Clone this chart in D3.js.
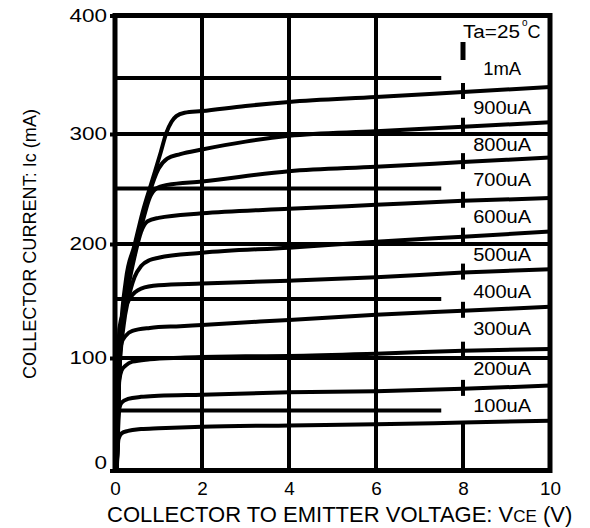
<!DOCTYPE html>
<html>
<head>
<meta charset="utf-8">
<script src="https://cdn.jsdelivr.net/npm/d3@7"></script>
<style>
  body { margin: 0; background: #fff; }
  svg { display: block; font-family: "Liberation Sans", Arial, sans-serif; }
</style>
</head>
<body>
<svg id="chart" width="590" height="528"></svg>
<script>
// Ic–Vce curves, [Vce (V), Ic (mA)] per base current
const ic100uA = [[0.04, 0], [0.08, 26], [0.15, 31], [0.3, 33], [0.6, 34.5], [1, 35.2], [2, 36.5], [4, 37.6], [6, 38.5], [8, 40], [10, 41.5]];
const ic200uA = [[0.04, 0], [0.1, 52], [0.15, 57.5], [0.3, 61], [0.6, 63], [1, 64], [2, 65], [4, 67.3], [6, 68.3], [8, 70.6], [10, 73.8]];
const ic300uA = [[0.04, 0], [0.1, 79], [0.15, 88], [0.25, 93], [0.4, 96.5], [0.8, 98.8], [1.5, 100.3], [3, 101.4], [4, 101.8], [6, 103.7], [8, 106.2], [10, 107.6]];
const ic400uA = [[0.04, 0], [0.1, 101], [0.15, 112.5], [0.25, 119], [0.4, 123], [0.8, 125.5], [1.5, 127], [2, 128], [4, 132.3], [6, 136.6], [8, 140], [10, 143.4]];
const ic500uA = [[0.04, 0], [0.1, 125], [0.2, 139.5], [0.35, 151], [0.6, 159.5], [1, 162.5], [2, 164.1], [4, 166.7], [6, 169.8], [8, 174], [10, 177.1]];
const ic600uA = [[0.04, 0], [0.1, 85], [0.2, 128], [0.3, 149], [0.45, 170], [0.6, 180], [0.8, 185.4], [1, 187.5], [2, 192], [4, 196.7], [6, 202], [8, 206.6], [10, 211.2]];
const ic700uA = [[0.04, 0], [0.1, 90], [0.2, 135], [0.3, 159.5], [0.45, 188.5], [0.6, 211], [0.75, 220.5], [1, 223.5], [2, 227.6], [4, 231.7], [6, 235.3], [8, 238.9], [10, 241.4]];
const ic800uA = [[0.04, 0], [0.1, 92], [0.2, 139.5], [0.3, 164.5], [0.45, 192.5], [0.63, 219.5], [0.8, 242], [0.95, 250], [1.2, 253.3], [2, 256.5], [4, 265.9], [6, 270], [8, 274.2], [10, 278.4]];
const ic900uA = [[0.04, 0], [0.1, 95.5], [0.2, 144.5], [0.3, 170], [0.45, 196.7], [0.63, 223.5], [0.8, 247], [1, 268], [1.2, 277.4], [1.5, 281.6], [2, 285.8], [3, 293], [4, 298.3], [6, 302.4], [8, 306.5], [10, 310.5]];
const ic1mA = [[0.04, 0], [0.1, 101], [0.25, 167], [0.45, 199], [0.63, 228], [0.86, 258], [1.05, 283], [1.18, 301], [1.3, 311], [1.41, 316], [1.6, 319], [2, 320.5], [3, 325], [4, 328.6], [6, 333], [8, 337.5], [10, 342]];

const curveNames = ["100uA", "200uA", "300uA", "400uA", "500uA", "600uA", "700uA", "800uA", "900uA", "1mA"];
// Ic (mA) where each curve label sits, Vce of the label column
const labelIc = [54.3, 89.5, 124.6, 156.4, 190, 224.3, 257.8, 289.9, 323.2, 357.2];
const labelVce = 8.9;

const xTicks = [0, 2, 4, 6, 8, 10];
const yTicks = [0, 100, 200, 300, 400];
const vGrid = [2, 4, 6];
const hGridFull = [100, 200, 300];
const hGridShort = [50, 150, 250, 350];
const hGridShortEnd = 7.5;
const markVce = 8;
const tempNote = { vce: 8, ic: 382, markTop: 378.8, markBottom: 364.4 };

const curves = [ic100uA, ic200uA, ic300uA, ic400uA, ic500uA, ic600uA, ic700uA, ic800uA, ic900uA, ic1mA];

const svg = d3.select("#chart");

const x = d3.scaleLinear().domain([0, 10]).range([115, 550]);
// scanned chart: grid spacing is a bit uneven, so map through each grid line
const y = d3.scaleLinear()
  .domain([0, 50, 100, 150, 200, 250, 300, 350, 400])
  .range([470.5, 410.5, 358, 299, 244, 188.5, 134, 78, 15.5]);

const ink = "#000";
const gridW = 4;

// grid
const grid = svg.append("g").attr("stroke", ink).attr("stroke-width", gridW);

grid.selectAll(".hshort")
  .data(hGridShort)
  .join("line")
  .attr("x1", x(0)).attr("x2", x(hGridShortEnd))
  .attr("y1", d => y(d)).attr("y2", d => y(d));

grid.selectAll(".hfull")
  .data(hGridFull)
  .join("line")
  .attr("x1", x(0)).attr("x2", x(10))
  .attr("y1", d => y(d)).attr("y2", d => y(d));

grid.selectAll(".v")
  .data(vGrid)
  .join("line")
  .attr("x1", d => x(d)).attr("x2", d => x(d))
  .attr("y1", y(0)).attr("y2", y(400));

// broken line at Vce = 8: base segment + short marks across each curve
const icAt = (c, v) => c.find(p => p[0] === v)[1];
grid.append("line")
  .attr("x1", x(markVce)).attr("x2", x(markVce))
  .attr("y1", y(0)).attr("y2", y(icAt(ic100uA, markVce)));

grid.selectAll(".mark")
  .data(curves.slice(1))
  .join("line")
  .attr("x1", x(markVce)).attr("x2", x(markVce))
  .attr("y1", c => y(icAt(c, markVce)) - 9)
  .attr("y2", c => y(icAt(c, markVce)) + 7);

grid.append("line")
  .attr("stroke-width", 5)
  .attr("x1", x(tempNote.vce)).attr("x2", x(tempNote.vce))
  .attr("y1", y(tempNote.markTop)).attr("y2", y(tempNote.markBottom));

// curves
const line = d3.line()
  .x(d => x(d[0]))
  .y(d => y(d[1]))
  .curve(d3.curveMonotoneX);

svg.append("g")
  .selectAll("path")
  .data(curves)
  .join("path")
  .attr("fill", "none")
  .attr("stroke", ink)
  .attr("stroke-width", 4)
  .attr("stroke-linejoin", "round")
  .attr("d", line);

// frame
svg.append("rect")
  .attr("x", x(0)).attr("y", y(400))
  .attr("width", x(10) - x(0)).attr("height", y(0) - y(400))
  .attr("fill", "none").attr("stroke", ink).attr("stroke-width", 5);

// axes
const yAxis = svg.append("g")
  .attr("transform", `translate(${x(0)},0)`)
  .call(d3.axisLeft(y).tickValues(yTicks).tickSize(5).tickPadding(3));
yAxis.select(".domain").remove();
yAxis.selectAll(".tick line").attr("stroke", ink).attr("stroke-width", gridW);
yAxis.selectAll(".tick text")
  .attr("fill", ink)
  .attr("font-size", 18)
  .attr("dy", d => (d === 0 ? "-0.11em" : "0.32em"))
  .attr("textLength", d => String(d).length * 12.5)
  .attr("lengthAdjust", "spacingAndGlyphs");
yAxis.attr("font-family", null).attr("font-size", null);

const xAxis = svg.append("g")
  .attr("transform", `translate(0,${y(0)})`)
  .call(d3.axisBottom(x).tickValues(xTicks).tickSize(0).tickPadding(12.5));
xAxis.select(".domain").remove();
xAxis.attr("font-family", null).attr("font-size", null);
xAxis.selectAll(".tick text")
  .attr("fill", ink)
  .attr("font-size", 17.5)
  .attr("textLength", d => String(d).length * 10.5)
  .attr("lengthAdjust", "spacingAndGlyphs");

// curve labels
svg.append("g")
  .selectAll("text")
  .data(curveNames)
  .join("text")
  .attr("x", x(labelVce))
  .attr("y", (d, i) => y(labelIc[i]))
  .attr("dy", "0.35em")
  .attr("text-anchor", "middle")
  .attr("font-size", 18)
  .attr("textLength", d => (d === "1mA" ? 38 : 58))
  .attr("lengthAdjust", "spacingAndGlyphs")
  .text(d => d);

// temperature note
const note = svg.append("text")
  .attr("x", x(tempNote.vce))
  .attr("y", y(tempNote.ic))
  .attr("font-size", 18);
note.append("tspan").attr("textLength", 57).attr("lengthAdjust", "spacingAndGlyphs").text("Ta=25");
note.append("tspan").attr("font-size", 10).attr("dx", 2).attr("dy", -12.5).text("o");
note.append("tspan").attr("dy", 12.5).text("C");

// axis titles
const xTitle = svg.append("text")
  .attr("x", x(0) - 8)
  .attr("y", 522)
  .attr("font-size", 22);
xTitle.append("tspan").text("COLLECTOR TO EMITTER VOLTAGE: V");
xTitle.append("tspan").attr("font-size", 17).text("CE");
xTitle.append("tspan").text(" (V)");

svg.append("text")
  .attr("transform", `translate(36,${y(200)}) rotate(-90)`)
  .attr("text-anchor", "middle")
  .attr("font-size", 17.5)
  .attr("textLength", 270)
  .attr("lengthAdjust", "spacingAndGlyphs")
  .text("COLLECTOR CURRENT: Ic (mA)");
</script>
</body>
</html>
